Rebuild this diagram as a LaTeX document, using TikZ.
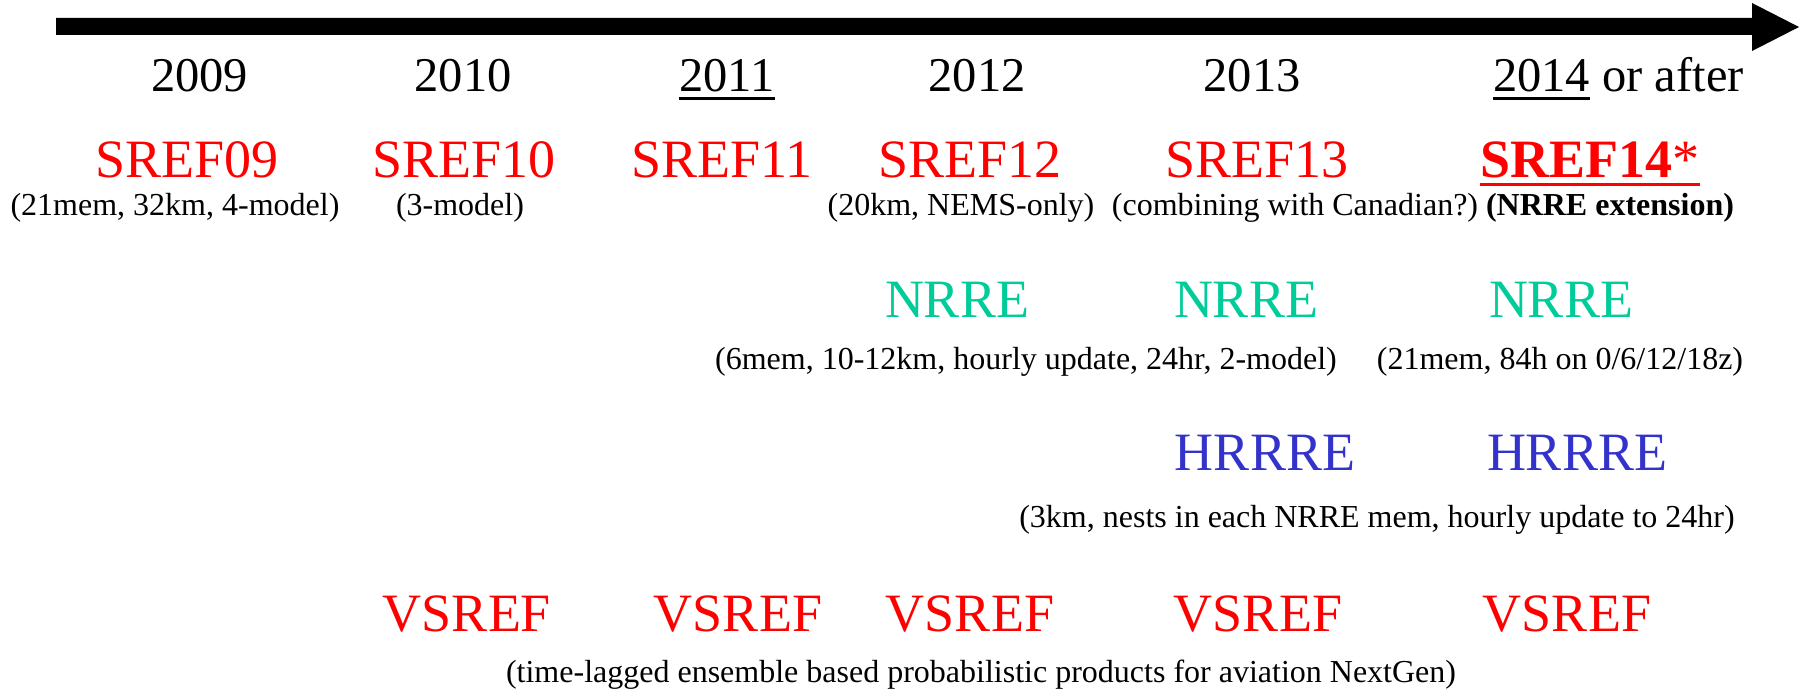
\documentclass[tikz,border=0pt]{standalone}
\usepackage{fontspec}
\setmainfont{Liberation Serif}
\definecolor{srefred}{RGB}{255,0,0}
\definecolor{nrregreen}{RGB}{0,204,153}
\definecolor{hrrreblue}{RGB}{51,51,204}
\tikzset{
  yearlbl/.style={anchor=base, inner sep=0pt, font=\fontsize{48.5}{58}\selectfont},
  biglbl/.style={anchor=base, inner sep=0pt, font=\fontsize{54}{64}\selectfont},
  notelbl/.style={anchor=base, inner sep=0pt, font=\fontsize{32}{38}\selectfont},
  ulinestyle/.style={line width=3pt},
}
\begin{document}
\begin{tikzpicture}[x=1pt,y=-1pt]
\useasboundingbox (0,0) rectangle (1801,690);
% timeline arrow
\fill (56,18) -- (1752,18) -- (1752,3) -- (1799,27) -- (1752,51) -- (1752,35) -- (56,35) -- cycle;
% years
\node[yearlbl] (y2009) at (199.5,92) {2009};
\node[yearlbl] (y2010) at (463,92) {2010};
\node[yearlbl] (y2011) at (727,92) {2011};
\node[yearlbl] (y2012) at (977,92) {2012};
\node[yearlbl] (y2013) at (1252,92) {2013};
\node[yearlbl] (y2014) at (1541.5,92) {2014};
\node[yearlbl, anchor=base west] (orafter) at ([xshift=12pt]y2014.base east) {or after};
\draw[ulinestyle] ([yshift=-6.5pt]y2011.base west) -- ([yshift=-6.5pt]y2011.base east);
\draw[ulinestyle] ([yshift=-6.5pt]y2014.base west) -- ([yshift=-6.5pt]y2014.base east);
% SREF row
\node[biglbl, text=srefred] (s09) at (187,177) {SREF09};
\node[biglbl, text=srefred] (s10) at (464,177) {SREF10};
\node[biglbl, text=srefred] (s11) at (722,177) {SREF11};
\node[biglbl, text=srefred] (s12) at (970,177) {SREF12};
\node[biglbl, text=srefred] (s13) at (1257,177) {SREF13};
\node[biglbl, text=srefred] (s14) at (1590,177) {\textbf{SREF14}*};
\draw[ulinestyle, srefred] ([yshift=-7pt]s14.base west) -- ([yshift=-7pt]s14.base east);
\node[notelbl] (n09) at (175,215.5) {(21mem, 32km, 4-model)};
\node[notelbl] (n10) at (460,215.5) {(3-model)};
\node[notelbl] (n12) at (961,215.5) {(20km, NEMS-only)};
\node[notelbl] (n13) at (1295,215.5) {(combining with Canadian?)};
\node[notelbl] (n14) at (1610,215.5) {\textbf{(NRRE extension)}};
% NRRE row
\node[biglbl, text=nrregreen] (r12) at (957,317) {NRRE};
\node[biglbl, text=nrregreen] (r13) at (1246,317) {NRRE};
\node[biglbl, text=nrregreen] (r14) at (1561,317) {NRRE};
\node[notelbl] (rn1) at (1026,369) {(6mem, 10-12km, hourly update, 24hr, 2-model)};
\node[notelbl] (rn2) at (1560,369) {(21mem, 84h on 0/6/12/18z)};
% HRRRE row
\node[biglbl, text=hrrreblue] (h13) at (1265,470.5) {HRRRE};
\node[biglbl, text=hrrreblue] (h14) at (1577,470.5) {HRRRE};
\node[notelbl] (hn) at (1377,527.5) {(3km, nests in each NRRE mem, hourly update to 24hr)};
% VSREF row
\node[biglbl, text=srefred] (v10) at (467,631.5) {VSREF};
\node[biglbl, text=srefred] (v11) at (738,631.5) {VSREF};
\node[biglbl, text=srefred] (v12) at (970,631.5) {VSREF};
\node[biglbl, text=srefred] (v13) at (1258,631.5) {VSREF};
\node[biglbl, text=srefred] (v14) at (1567,631.5) {VSREF};
\node[notelbl] (vn) at (981,682) {(time-lagged ensemble based probabilistic products for aviation NextGen)};
\end{tikzpicture}
\end{document}
